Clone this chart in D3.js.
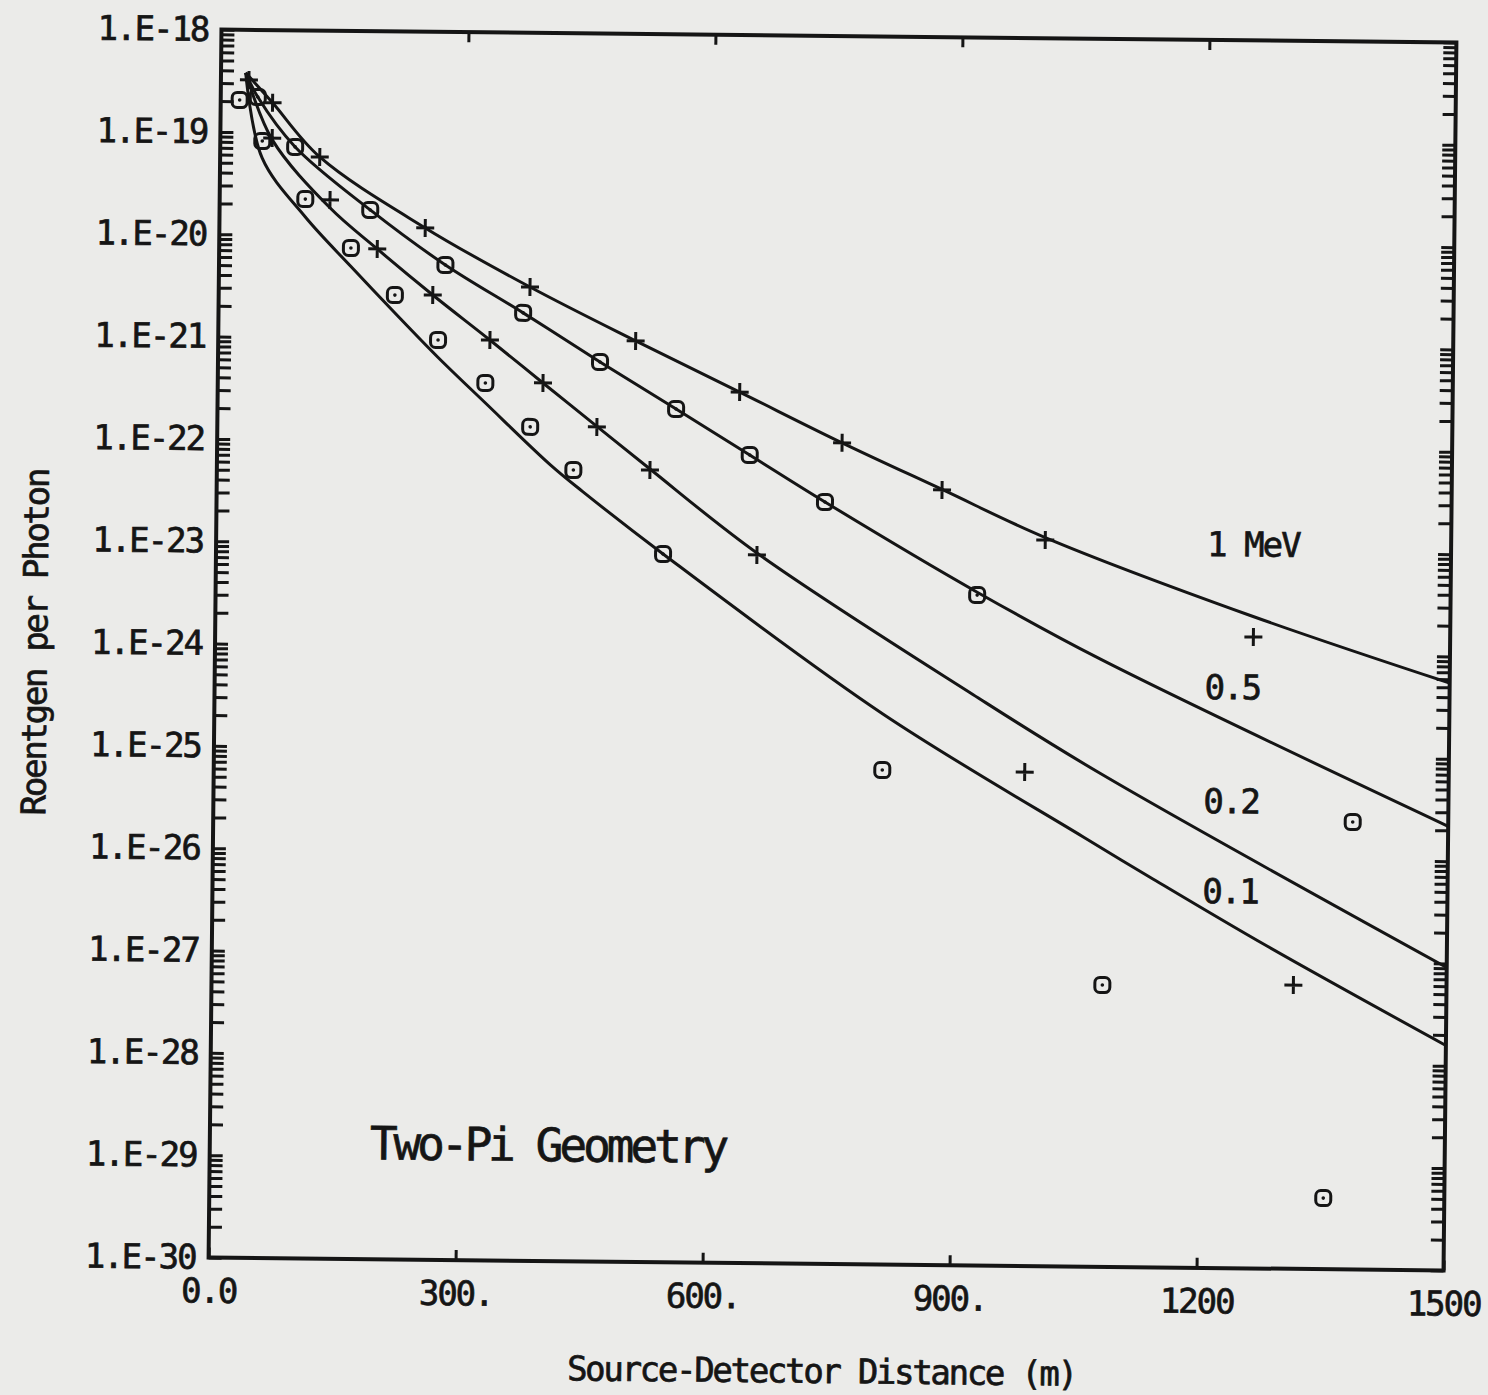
<!DOCTYPE html>
<html>
<head>
<meta charset="utf-8">
<script src="https://cdn.jsdelivr.net/npm/d3@7"></script>
<style>
  html, body { margin: 0; padding: 0; background: #ebebe9; }
  svg { display: block; }
  text { font-family: "DejaVu Sans Mono", monospace; fill: #151515; stroke: #151515; stroke-width: 0.7px; }
</style>
</head>
<body>
<svg id="chart" width="1488" height="1395"></svg>
<script>
// ---- axis tick values and labels ----
const xTicks = [0, 300, 600, 900, 1200, 1500];
const xTickLabels = ["0.0", "300.", "600.", "900.", "1200", "1500"];
const yDecades = [1e-30, 1e-29, 1e-28, 1e-27, 1e-26, 1e-25, 1e-24, 1e-23, 1e-22, 1e-21, 1e-20, 1e-19, 1e-18];
const yTickLabels = ["1.E-30", "1.E-29", "1.E-28", "1.E-27", "1.E-26", "1.E-25", "1.E-24",
                     "1.E-23", "1.E-22", "1.E-21", "1.E-20", "1.E-19", "1.E-18"];

// ---- computed exposure curves: [distance (m), R per photon] ----
const curve1MeV = [[30, 3.80e-19], [63, 1.95e-19], [121, 5.82e-20], [250, 1.21e-20], [378, 3.28e-21],
  [507, 1.00e-21], [634, 3.24e-22], [759, 1.06e-22], [881, 3.80e-23], [1007, 1.32e-23],
  [1257, 2.40e-24], [1500, 5.50e-25]];
const curve05MeV = [[30, 3.80e-19], [45, 2.21e-19], [91, 7.26e-20], [183, 1.79e-20], [275, 5.28e-21],
  [370, 1.83e-21], [464, 6.18e-22], [557, 2.18e-22], [647, 7.89e-23], [739, 2.79e-23],
  [925, 3.80e-24], [1075, 8.71e-25], [1500, 2.19e-26]];
const curve02MeV = [[30, 3.80e-19], [63, 8.51e-20], [134, 1.86e-20], [192, 7.45e-21], [260, 2.68e-21],
  [330, 9.86e-22], [395, 3.80e-22], [461, 1.45e-22], [526, 5.62e-23], [657, 8.71e-24],
  [921, 3.80e-25], [1077, 6.61e-26], [1500, 9.12e-28]];
const curve01MeV = [[30, 3.80e-19], [51, 5.62e-20], [104, 1.51e-20], [160, 5.01e-21], [214, 1.78e-21],
  [267, 6.61e-22], [325, 2.40e-22], [405, 6.03e-23], [445, 3.31e-23], [543, 8.34e-24],
  [812, 2.40e-25], [1057, 1.58e-26], [1139, 6.46e-27], [1282, 1.41e-27], [1500, 1.58e-28]];

// ---- measured points: [distance (m), R per photon] ----
const marks1MeV = [[63, 1.95e-19], [121, 5.82e-20], [250, 1.21e-20], [378, 3.28e-21], [507, 1.00e-21],
  [634, 3.24e-22], [759, 1.06e-22], [881, 3.76e-23], [1007, 1.25e-23], [1261, 1.48e-24]];
const marks05MeV = [[45, 2.21e-19], [91, 7.26e-20], [183, 1.79e-20], [275, 5.28e-21], [370, 1.83e-21],
  [464, 6.18e-22], [557, 2.18e-22], [647, 7.89e-23], [739, 2.79e-23], [925, 3.56e-24], [1384, 2.36e-26]];
const marks02MeV = [[34, 3.24e-19], [63, 8.81e-20], [134, 2.22e-20], [192, 7.45e-21], [260, 2.68e-21],
  [330, 9.86e-22], [395, 3.80e-22], [461, 1.43e-22], [526, 5.50e-23], [657, 8.34e-24],
  [985, 6.71e-26], [1314, 5.93e-28]];
const marks01MeV = [[23, 2.06e-19], [51, 8.22e-20], [104, 2.25e-20], [160, 7.57e-21], [214, 2.65e-21],
  [267, 9.75e-22], [325, 3.75e-22], [380, 1.41e-22], [433, 5.40e-23], [543, 8.34e-24],
  [812, 6.79e-26], [1082, 5.68e-28], [1353, 4.95e-30]];

const energyLabels = ["1 MeV", "0.5", "0.2", "0.1"];

// ---- layout ----
const plotLeft = 215, plotRight = 1450, plotTop = 36, plotBottom = 1264;
const ink = "#151515";

const svg = d3.select("#chart");
svg.append("rect").attr("width", 1488).attr("height", 1395).attr("fill", "#ebebe9");

// the sheet sits very slightly askew
const g = svg.append("g").attr("transform", "rotate(0.6,832,650)");

const x = d3.scaleLinear().domain([0, 1500]).range([plotLeft, plotRight]);
const y = d3.scaleLog().domain([1e-30, 1e-18]).range([plotBottom, plotTop]);

// minor + major log ticks
const logTicks = [];
yDecades.forEach((d, i) => {
  logTicks.push(d);
  if (i < yDecades.length - 1) for (let k = 2; k <= 9; k++) logTicks.push(d * k);
});
const decadeLabel = v => {
  const i = yDecades.findIndex(d => Math.abs(Math.log10(d) - Math.log10(v)) < 1e-6);
  return i >= 0 ? yTickLabels[i] : "";
};

function styleAxis(sel) {
  sel.select(".domain").remove();
  sel.selectAll(".tick line").attr("stroke", ink).attr("stroke-width", 3);
  sel.selectAll(".tick text").attr("fill", ink).style("font-size", "34px")
     .style("letter-spacing", "-2px").attr("font-family", null);
}

// left axis with labels
g.append("g").attr("transform", `translate(${plotLeft},0)`)
  .call(d3.axisLeft(y).tickValues(logTicks).tickSize(-13).tickPadding(13).tickFormat(decadeLabel))
  .call(styleAxis);

// right axis, ticks only
g.append("g").attr("transform", `translate(${plotRight},0)`)
  .call(d3.axisRight(y).tickValues(logTicks).tickSize(-13).tickFormat(""))
  .call(styleAxis);

// bottom axis
g.append("g").attr("transform", `translate(0,${plotBottom})`)
  .call(d3.axisBottom(x).tickValues(xTicks).tickSize(-10).tickPadding(21)
        .tickFormat((d, i) => xTickLabels[i]))
  .call(styleAxis);

// top axis, ticks only
g.append("g").attr("transform", `translate(0,${plotTop})`)
  .call(d3.axisTop(x).tickValues(xTicks.slice(1, -1)).tickSize(-10).tickFormat(""))
  .call(styleAxis);

// frame
g.append("rect")
  .attr("x", plotLeft).attr("y", plotTop)
  .attr("width", plotRight - plotLeft).attr("height", plotBottom - plotTop)
  .attr("fill", "none").attr("stroke", ink).attr("stroke-width", 4);

// curves
const line = d3.line().x(d => x(d[0])).y(d => y(d[1])).curve(d3.curveCatmullRom.alpha(0.5));
[curve1MeV, curve05MeV, curve02MeV, curve01MeV].forEach(c => {
  g.append("path").datum(c).attr("d", line)
    .attr("fill", "none").attr("stroke", ink).attr("stroke-width", 3);
});

// markers
function plusMarks(data) {
  g.append("g").selectAll("path").data(data).join("path")
    .attr("transform", d => `translate(${x(d[0])},${y(d[1])})`)
    .attr("d", "M-9,0H9M0,-9V9")
    .attr("stroke", ink).attr("stroke-width", 3).attr("fill", "none");
}
function dotMarks(data) {
  const m = g.append("g").selectAll("g").data(data).join("g")
    .attr("transform", d => `translate(${x(d[0])},${y(d[1])})`);
  m.append("rect").attr("x", -7.5).attr("y", -7.5).attr("width", 15).attr("height", 15)
    .attr("rx", 5).attr("fill", "none").attr("stroke", ink).attr("stroke-width", 3);
  m.append("circle").attr("r", 1.8).attr("fill", ink);
}
plusMarks(marks1MeV);
dotMarks(marks05MeV);
plusMarks(marks02MeV);
dotMarks(marks01MeV);

// curve labels
const labelPos = [[1206, 552], [1205, 695], [1205, 809], [1205, 899]];
energyLabels.forEach((t, i) => {
  g.append("text").attr("x", labelPos[i][0]).attr("y", labelPos[i][1])
    .style("font-size", "34px").style("letter-spacing", "-2px").text(t);
});

// annotation
g.append("text").attr("x", 375).attr("y", 1164)
  .style("font-size", "46px").style("letter-spacing", "-4px").text("Two-Pi Geometry");

// axis titles
g.append("text").attr("x", 829).attr("y", 1383).attr("text-anchor", "middle")
  .style("font-size", "34px").style("letter-spacing", "-2.3px")
  .text("Source-Detector Distance (m)");
g.append("text").attr("transform", "translate(47,651) rotate(-90)").attr("text-anchor", "middle")
  .style("font-size", "34px").style("letter-spacing", "-2.3px")
  .text("Roentgen per Photon");
</script>
</body>
</html>
